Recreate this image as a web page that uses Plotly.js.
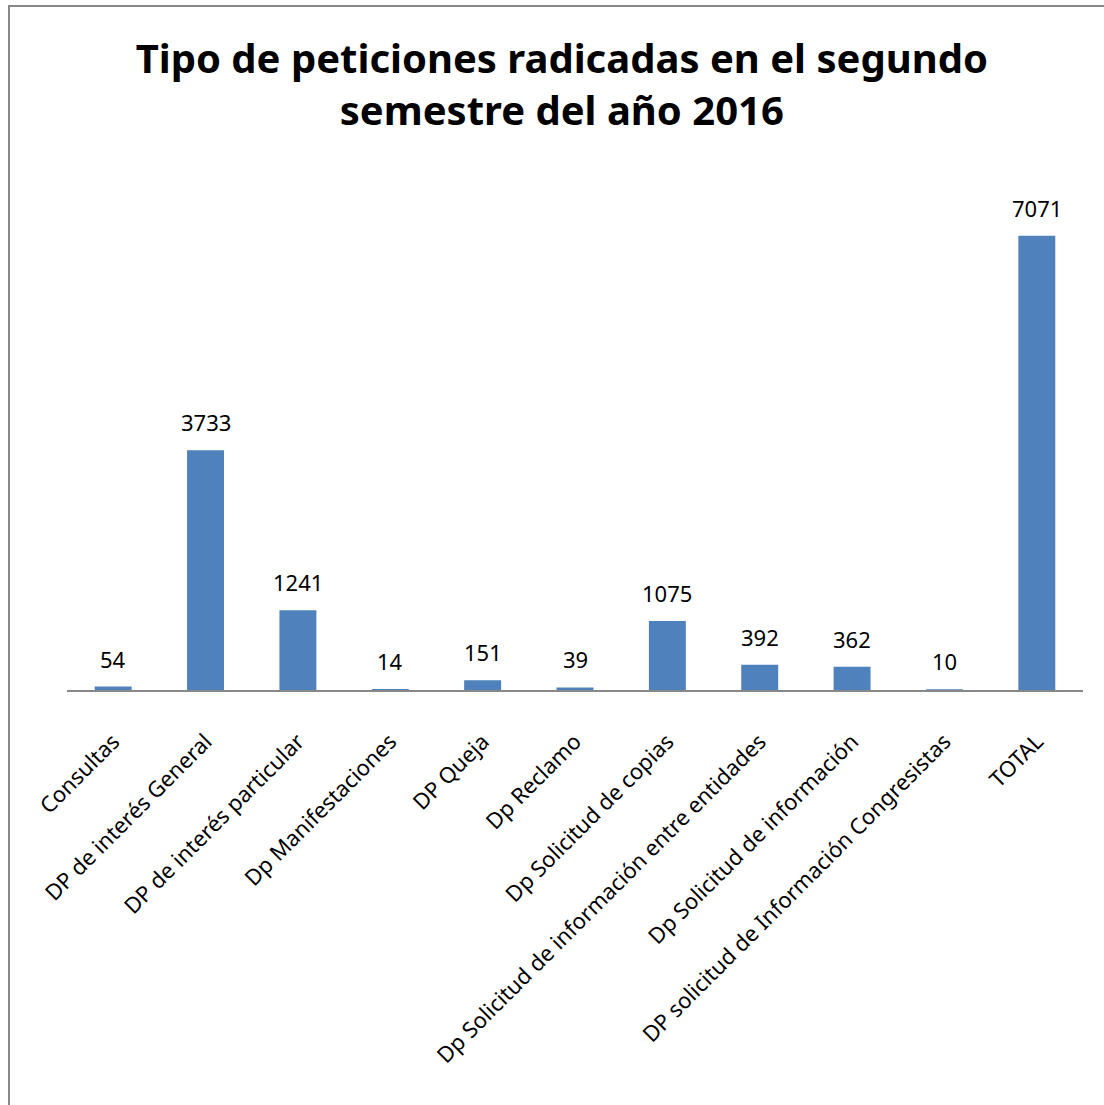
<!DOCTYPE html>
<html>
<head>
<meta charset="utf-8">
<script src="https://cdn.plot.ly/plotly-3.0.1.min.js"></script>
<style>
html,body{margin:0;padding:0;background:#fff;}
#chart{position:absolute;left:0;top:0;width:1104px;height:1105px;}
#frame{position:absolute;left:8px;top:5px;width:1104px;height:1110px;border-left:2px solid #888;border-top:2px solid #888;pointer-events:none;}
</style>
</head>
<body>
<div id="chart"></div>
<div id="frame"></div>
<script>
const categories = [
  "Consultas",
  "DP de interés General",
  "DP de interés particular",
  "Dp Manifestaciones",
  "DP Queja",
  "Dp Reclamo",
  "Dp Solicitud de copias",
  "Dp Solicitud de información entre entidades",
  "Dp Solicitud de información",
  "DP solicitud de Información Congresistas",
  "TOTAL"
];
const values = [54, 3733, 1241, 14, 151, 39, 1075, 392, 362, 10, 7071];
const titleText = "Tipo de peticiones radicadas en el segundo<br>semestre del año 2016";

const font = "Noto Sans, Open Sans, sans-serif";

const annotations = categories.map((c, i) => ({
  x: c, y: values[i], xref: "x", yref: "y",
  text: String(values[i]), showarrow: false,
  yanchor: "bottom", yshift: 11,
  font: {family: font, size: 22, color: "#000"}
}));

Plotly.newPlot("chart", [{
  type: "bar",
  x: categories,
  y: values,
  marker: {color: "#4F81BD", line: {color: "#4F81BD", width: 0}},
  hoverinfo: "skip"
}], {
  width: 1104, height: 1105,
  margin: {l: 67, r: 21, t: 176, b: 415},
  paper_bgcolor: "#fff", plot_bgcolor: "#fff",
  bargap: 0.6,
  showlegend: false,
  title: {
    text: "<b>" + titleText + "</b>",
    font: {family: font, size: 40, color: "#000"},
    xref: "paper", x: 0.487, xanchor: "center",
    yref: "container", y: 0.934, yanchor: "middle"
  },
  xaxis: {
    type: "category",
    tickangle: -45,
    tickfont: {family: font, size: 22, color: "#000"},
    showline: true, linecolor: "#888", linewidth: 2,
    ticks: "", ticklabelstandoff: 28,
    showgrid: false, zeroline: false,
    fixedrange: true
  },
  yaxis: {
    range: [0, 8000],
    visible: false,
    showgrid: false, zeroline: false,
    fixedrange: true
  },
  annotations: annotations
}, {staticPlot: true});
</script>
</body>
</html>
